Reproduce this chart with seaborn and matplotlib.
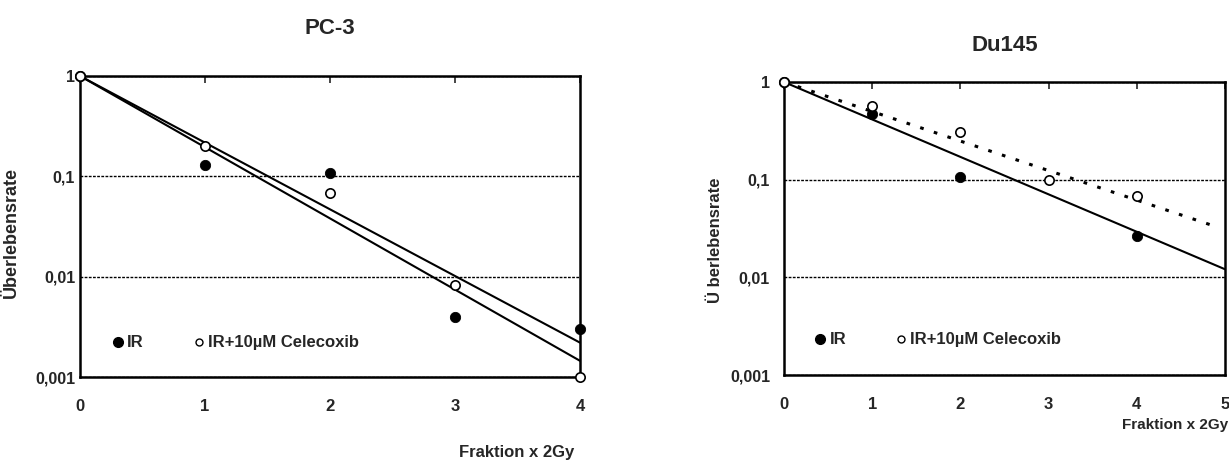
import numpy as np
import matplotlib
matplotlib.use('Agg')
import matplotlib.pyplot as plt
from matplotlib.lines import Line2D
import pandas as pd
import seaborn as sns

# --- data ---
pc3_x = [0, 1, 2, 3, 4]
pc3_ir = [1.0, 0.13, 0.107, 0.0040, 0.0030]
pc3_cel = [1.0, 0.20, 0.068, 0.0083, 0.001]
pc3_fit_x = [0, 4]
pc3_fit_ir = [1.0, 0.0022]
pc3_fit_cel = [1.0, 0.00145]

du_x_ir = [0, 1, 2, 4]
du_ir = [1.0, 0.47, 0.107, 0.0265]
du_x_cel = [0, 1, 2, 3, 4]
du_cel = [1.0, 0.57, 0.305, 0.10, 0.068]
du_fit_ir_x = [0, 5]
du_fit_ir = [1.0, 0.0121]
du_fit_cel_x = [0, 4.9]
du_fit_cel = [1.0, 0.033]

ytick_vals = [0.001, 0.01, 0.1, 1]
ytick_labels = ['0,001', '0,01', '0,1', '1']
label_ir = 'IR'
label_cel = 'IR+10µM Celecoxib'

sns.set_style('white')
plt.rcParams['font.family'] = ['Liberation Sans', 'DejaVu Sans']
plt.rcParams['font.weight'] = 'bold'

fig = plt.figure(figsize=(12.29, 4.63), dpi=100)
ax1 = fig.add_axes([80/1229, 1 - 377/463, 500/1229, 301/463])
ax2 = fig.add_axes([784/1229, 1 - 375/463, 441/1229, 293/463])


def style_axes(ax, xmax):
    ax.set_yscale('log')
    ax.set_ylim(0.001, 1)
    ax.set_xlim(0, xmax)
    ax.set_yticks(ytick_vals)
    ax.set_yticklabels(ytick_labels)
    ax.yaxis.set_minor_locator(matplotlib.ticker.NullLocator())
    ax.set_xticks(range(0, xmax + 1))
    ax.tick_params(axis='x', bottom=False, top=True, direction='in', length=5,
                   width=1.2, labelbottom=True, labeltop=False, pad=16, labelsize=12)
    ax.tick_params(axis='y', length=0, labelsize=11.5)
    for lab in ax.get_xticklabels() + ax.get_yticklabels():
        lab.set_fontweight('bold')
    for s in ax.spines.values():
        s.set_visible(True)
        s.set_color('black')
        s.set_linewidth(1.8)
    ax.yaxis.grid(True, which='major', color='black', linestyle=(0, (2, 1)), linewidth=1.0)
    ax.xaxis.grid(False)


def legend(ax, anchor, colspace):
    handles = [
        Line2D([], [], linestyle='none', marker='o', markersize=7,
               markerfacecolor='black', markeredgecolor='black'),
        Line2D([], [], linestyle='none', marker='o', markersize=5,
               markerfacecolor='white', markeredgecolor='black', markeredgewidth=1.0),
    ]
    ax.legend(handles, [label_ir, label_cel], ncol=2, loc='center left',
              bbox_to_anchor=anchor, frameon=False, handlelength=0.6,
              handletextpad=0.25, columnspacing=colspace, borderpad=0,
              prop={'weight': 'bold', 'size': 12})


# --- PC-3 ---
sns.lineplot(x=pc3_fit_x, y=pc3_fit_ir, ax=ax1, color='black', linewidth=1.5)
sns.lineplot(x=pc3_fit_x, y=pc3_fit_cel, ax=ax1, color='black', linewidth=1.5)
sns.scatterplot(x=pc3_x, y=pc3_ir, ax=ax1, color='black', s=55, edgecolor='black',
                zorder=5, clip_on=False)
sns.scatterplot(x=pc3_x, y=pc3_cel, ax=ax1, facecolor='white', s=45, edgecolor='black',
                linewidth=1.2, zorder=6, clip_on=False)
style_axes(ax1, 4)
ax1.set_title('PC-3', fontsize=16, fontweight='bold', pad=30)
ax1.set_ylabel('Überlebensrate', fontsize=13, fontweight='bold')
ax1.yaxis.set_label_coords(-0.12, 0.48)
ax1.set_xlabel('Fraktion x 2Gy', fontsize=12, fontweight='bold')
ax1.xaxis.set_label_coords((517 - 80) / 500, -(452 - 377) / 301)
ax1.xaxis.label.set_va('center')
legend(ax1, (0.049, 0.113), 3.0)

# --- Du145 ---
sns.lineplot(x=du_fit_ir_x, y=du_fit_ir, ax=ax2, color='black', linewidth=1.5)
sns.lineplot(x=du_fit_cel_x, y=du_fit_cel, ax=ax2, color='black', linewidth=2.2,
             linestyle=(0, (1.2, 3.5)))
sns.scatterplot(x=du_x_ir, y=du_ir, ax=ax2, color='black', s=55, edgecolor='black',
                zorder=5, clip_on=False)
sns.scatterplot(x=du_x_cel, y=du_cel, ax=ax2, facecolor='white', s=45, edgecolor='black',
                linewidth=1.2, zorder=6, clip_on=False)
style_axes(ax2, 5)
ax2.tick_params(axis='y', pad=10)
ax2.set_title('Du145', fontsize=16, fontweight='bold', pad=22)
ax2.set_ylabel('Ü berlebensrate', fontsize=12, fontweight='bold')
ax2.yaxis.set_label_coords((723 - 784) / 441, 0.46)
ax2.set_xlabel('Fraktion x 2Gy', fontsize=11, fontweight='bold')
ax2.xaxis.set_label_coords((1228 - 784) / 441, -(425 - 375) / 293)
ax2.xaxis.label.set_ha('right')
ax2.xaxis.label.set_va('center')
legend(ax2, (0.052, 0.12), 3.0)

fig.savefig('out.png', dpi=100, facecolor='white')
